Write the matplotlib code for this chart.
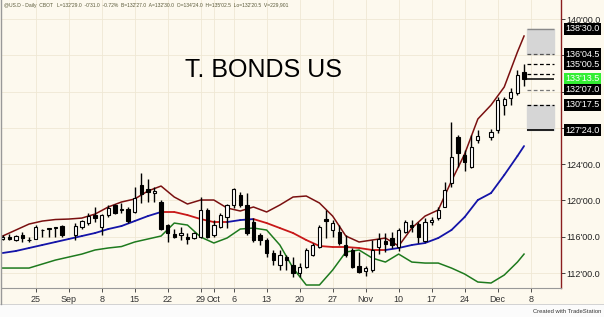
import numpy as np
import matplotlib
matplotlib.use('Agg')
import matplotlib.pyplot as plt
from matplotlib.patches import Rectangle

plt.rcParams['font.family'] = ['Liberation Sans', 'DejaVu Sans']

# daily bars, index 0 = Aug 18; None = holiday (Labor Day, Thanksgiving)
opens = [115.75, 115.97, 115.64, 116.19, 115.60, 115.75, 116.70, 116.90, 117.00, 117.18,
         None, 116.19, 117.07, 117.50, 118.40, 117.07, 118.40, 119.50, 119.00, 119.10,
         118.70, 121.70, 121.30, 120.80, 119.83, 117.29, 116.30, 116.20, 115.97, 115.90,
         115.97, 118.95, 116.19, 117.07, 118.17, 119.50, 120.60, 119.50, 117.60, 116.19,
         115.64, 114.21, 112.88, 113.80, 112.88, 112.00, 112.66, 113.98, 114.87, 118.00,
         116.70, 116.52, 115.09, 114.54, 112.77, 112.20, 112.33, 114.87, 115.50, 115.86,
         114.87, 116.52, 117.29, 117.40, 115.53, 117.60, 118.06, 119.28, 121.92, 126.99,
         125.01, 123.69, 126.66, None, 127.00, 127.77, 130.52, 131.29, 131.85, 134.20]
highs = [116.19, 116.30, 116.20, 116.50, 116.00, 117.29, 116.85, 117.00, 117.10, 117.30,
         None, 117.50, 117.85, 118.60, 119.30, 118.50, 119.50, 119.60, 119.70, 119.30,
         121.50, 123.00, 122.40, 121.50, 120.00, 117.40, 116.85, 117.07, 116.41, 116.50,
         120.38, 119.20, 117.84, 118.62, 119.60, 121.40, 120.90, 120.80, 118.06, 116.40,
         115.86, 114.54, 114.50, 113.98, 113.76, 113.10, 114.76, 115.31, 117.29, 118.95,
         117.84, 117.29, 116.19, 114.76, 114.30, 112.77, 115.64, 116.41, 116.41, 116.52,
         116.96, 117.84, 117.84, 117.62, 118.06, 118.17, 119.28, 122.03, 128.65, 127.22,
         125.56, 127.22, 127.77, None, 127.88, 131.40, 131.40, 132.40, 134.38, 135.08]
lows = [115.64, 115.64, 115.55, 115.40, 115.40, 115.70, 116.00, 116.00, 116.00, 116.00,
        None, 115.64, 116.90, 117.30, 117.60, 116.20, 118.17, 118.50, 118.60, 117.50,
        118.60, 119.70, 119.80, 119.80, 116.70, 115.42, 115.86, 115.64, 115.20, 115.70,
        115.86, 115.86, 116.00, 116.96, 117.00, 119.20, 119.28, 116.20, 115.42, 115.10,
        113.76, 112.88, 112.33, 112.33, 111.56, 111.60, 112.55, 113.90, 114.76, 115.86,
        115.97, 115.09, 113.76, 112.55, 112.00, 111.70, 112.11, 114.10, 114.30, 114.76,
        114.43, 116.41, 116.52, 115.31, 115.42, 117.29, 117.84, 119.28, 121.48, 123.69,
        123.25, 123.58, 126.33, None, 126.66, 127.44, 129.42, 130.52, 131.63, 132.64]
closes = [115.97, 115.75, 116.08, 115.86, 115.68, 117.07, 116.78, 116.95, 117.05, 116.20,
          None, 117.18, 117.73, 118.30, 118.06, 118.40, 119.17, 118.60, 119.10, 117.70,
          120.30, 120.71, 120.90, 121.00, 116.85, 116.41, 116.00, 116.40, 115.75, 116.40,
          118.95, 115.97, 117.29, 118.40, 119.50, 121.26, 119.50, 116.40, 115.64, 115.64,
          114.21, 113.43, 113.98, 113.43, 112.00, 112.66, 114.54, 115.09, 117.07, 117.70,
          117.50, 115.31, 113.98, 112.66, 112.11, 112.60, 114.54, 115.75, 115.20, 115.09,
          116.74, 117.62, 117.07, 115.97, 117.62, 117.80, 118.95, 121.15, 124.79, 125.23,
          124.24, 125.89, 127.10, None, 127.55, 131.07, 131.18, 131.96, 133.83, 133.42]

# band lines sampled every second bar
band_idx = list(range(0, 80, 2)) + [79]
upper = [116.08, 116.74, 117.40, 117.73, 117.90, 117.95, 118.06, 118.50, 119.28, 119.83,
         120.16, 121.04, 121.59, 120.38, 119.61, 120.05, 120.05, 119.17, 118.84, 119.28,
         118.73, 119.50, 120.38, 120.49, 119.72, 118.28, 116.08, 115.42, 115.64, 115.86,
         114.98, 116.96, 118.28, 118.95, 122.14, 125.12, 128.98, 130.52, 132.51, 136.37,
         138.13]
middle = [114.21, 114.43, 114.76, 115.09, 115.42, 115.75, 116.08, 116.41, 116.85, 117.18,
          117.73, 118.28, 118.73, 118.73, 118.39, 117.95, 117.62, 117.62, 117.84, 117.95,
          117.51, 116.96, 116.41, 115.64, 114.98, 114.87, 114.87, 114.76, 114.54, 114.54,
          114.76, 115.09, 115.31, 115.86, 116.74, 118.17, 120.05, 120.82, 122.80, 124.90,
          126.00]
lower = [112.55, 112.55, 112.55, 112.99, 113.43, 113.76, 114.09, 114.54, 114.76, 114.92,
         115.42, 115.75, 116.08, 117.51, 117.29, 115.97, 115.31, 115.86, 116.85, 116.96,
         116.74, 115.09, 112.55, 110.68, 110.68, 112.33, 114.32, 114.54, 113.65, 113.21,
         114.09, 113.21, 113.10, 113.10, 112.55, 111.89, 111.01, 110.90, 111.78, 113.21,
         114.09]

tick_pos = [5, 10, 15, 20, 25, 30, 32, 35, 40, 45, 50, 55, 60, 65, 70, 75, 80]
tick_lab = ['25', 'Sep', '8', '15', '22', '29', 'Oct', '6', '13', '20', '27',
            'Nov', '10', '17', '24', 'Dec', '8']
price_ticks = [112, 116, 120, 124, 128, 132, 136, 140]
hidden_ticks = [132, 136]   # labels covered by the level boxes

levels = [138.9375, 136.140625, 135.015625, 133.421875, 132.21875, 130.546875, 127.75]
level_labels = ["138'30.0", "136'04.5", "135'00.5", "133'13.5", "132'07.0", "130'17.5", "127'24.0"]
extra_level = 133.94

bg = '#fdf9ee'
fig = plt.figure(figsize=(6.04, 3.17), dpi=100, facecolor=bg)
ax = fig.add_axes([2/604, 29/317, 559/604, 288/317], facecolor=bg)
ax.set_xlim(-0.1, 84.6)
ax.set_ylim(110.35, 142.1)

# grid
ax.set_xticks(tick_pos)
ax.set_xticklabels(tick_lab)
ax.set_yticks(price_ticks)
ax.set_yticklabels(["" if p in hidden_ticks else "%d'00.0" % p for p in price_ticks])
ax.grid(True, color='#efe8d4', lw=0.6)
ax.set_axisbelow(True)

# bands
ax.plot(band_idx, upper, color='#7a1010', lw=1.1, zorder=2)
ax.plot(band_idx, lower, color='#1e7a1e', lw=1.1, zorder=2)
for k in range(len(band_idx) - 1):
    col = '#1414a8' if middle[k + 1] > middle[k] else '#c81818'
    ax.plot(band_idx[k:k + 2], middle[k:k + 2], color=col, lw=1.3, zorder=2,
            solid_capstyle='round')

# candles
for i in range(len(opens)):
    o, h, l, c = opens[i], highs[i], lows[i], closes[i]
    if o is None:
        continue
    ax.vlines(i, l, h, color='black', lw=1, zorder=3)
    fc = 'black' if c < o else 'white'
    ax.bar(i, max(abs(c - o), 0.06), width=0.5, bottom=min(o, c),
           facecolor=fc, edgecolor='black', lw=0.8, zorder=4)

# level zones on right
x0, x1 = 79.45, 83.5
ax.fill_between([x0, x1], levels[1], levels[0], color='#d6d6d6', zorder=1)
ax.fill_between([x0, x1], levels[6], levels[5], color='#d6d6d6', zorder=1)
ax.hlines(levels[0], x0, x1, color='#8a8a8a', lw=1, zorder=2)
ax.hlines(levels[1], x0, x1, color='#555555', lw=0.9, ls=(0, (3, 2)), zorder=2)
ax.hlines(levels[2], x0, x1, color='black', lw=0.9, ls=(0, (3, 2)), zorder=2)
ax.hlines(extra_level, x0, x1, color='black', lw=0.9, ls=(0, (3, 2)), zorder=2)
ax.hlines(levels[3], 79.3, x1, color='black', lw=1.1, zorder=2)
ax.hlines(levels[4], x0, x1, color='#777777', lw=0.9, ls=(0, (3, 2)), zorder=2)
ax.hlines(levels[5], x0, x1, color='black', lw=0.9, ls=(0, (3, 2)), zorder=2)
ax.hlines(levels[6], x0, x1, color='black', lw=1.2, zorder=2)

ytr = ax.get_yaxis_transform()
for lv, lab in zip(levels, level_labels):
    fcol = '#33ee33' if lab == "133'13.5" else 'black'
    ax.text(1.0075, lv, lab, transform=ytr, ha='left', va='center', fontsize=6.5,
            color='white', clip_on=False, zorder=10,
            bbox=dict(boxstyle='square,pad=0.15', fc=fcol, ec='none'))

# axes styling
ax.yaxis.tick_right()
ax.tick_params(axis='y', length=3, width=0.6, pad=1, labelsize=6.5,
               colors='#222222')
ax.tick_params(axis='x', length=3, width=0.6, pad=2, labelsize=6.5,
               colors='#333333')
for s in ['top', 'left']:
    ax.spines[s].set_visible(False)
ax.spines['right'].set_color('#8b1e1e')
ax.spines['right'].set_linewidth(1)
ax.spines['bottom'].set_color('#999999')
ax.spines['bottom'].set_linewidth(0.8)

ax.text(0.468, 0.757, 'T. BONDS US', transform=ax.transAxes, ha='center', va='center',
        fontsize=18, color='black')

fig.text(4/604, 1 - 5/317,
         "@US.D - Daily  CBOT   L=132'29.0  -0'31.0  -0.72%  B=132'27.0  A=132'30.0  "
         "O=134'24.0  H=135'02.5  Lo=132'20.5  V=229,901",
         ha='left', va='center', fontsize=3.6, color='#5a5a3a')

# bottom strip
fig.patches.append(Rectangle((0, 0), 1, 13/317, transform=fig.transFigure,
                             facecolor='#fbfbfb', edgecolor='none', zorder=0))
fig.lines.append(plt.Line2D([0, 1], [13/317, 13/317], transform=fig.transFigure,
                            color='#cccccc', lw=0.6))
fig.lines.append(plt.Line2D([1/604, 1/604], [13/317, 1], transform=fig.transFigure,
                            color='#999999', lw=1))
fig.text(601/604, 3/317, 'Created with TradeStation', ha='right', va='bottom',
         fontsize=4.2, color='#333333')

fig.savefig('out.png', dpi=100, facecolor=bg)
